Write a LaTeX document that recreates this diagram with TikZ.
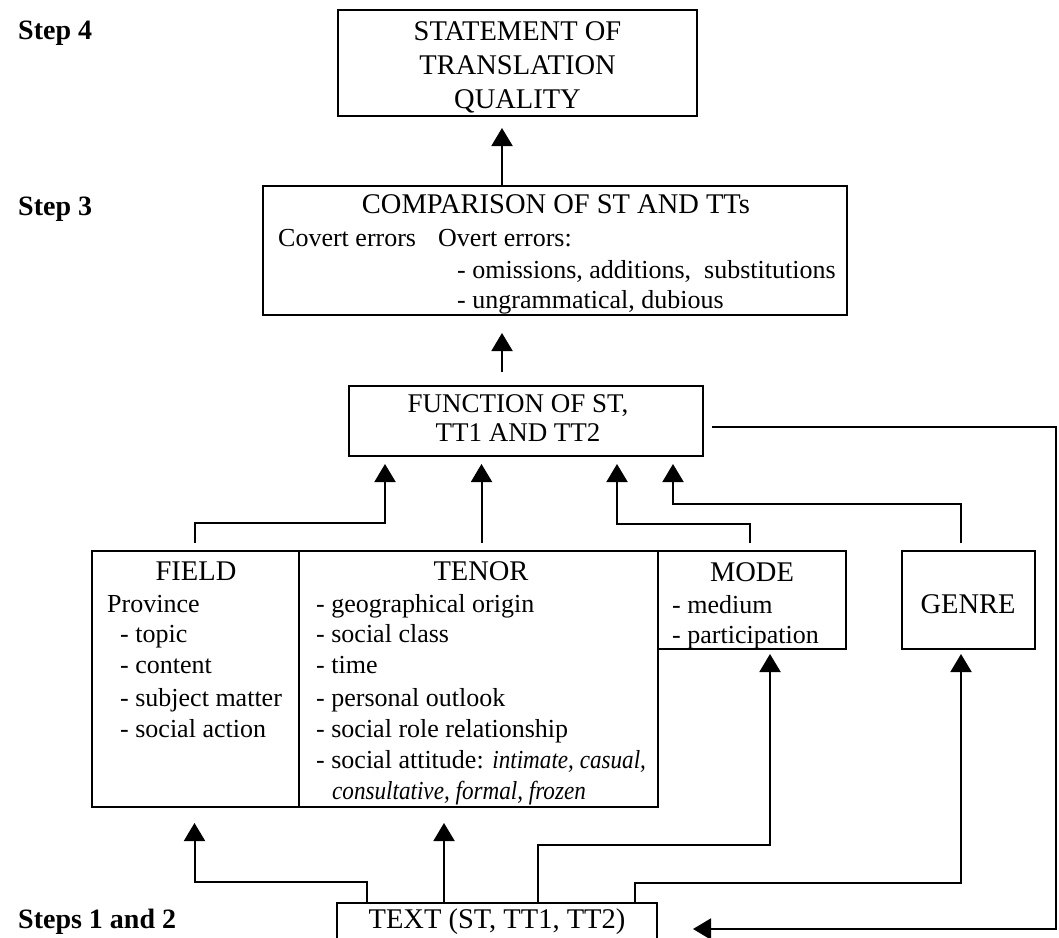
\documentclass[tikz,border=0pt]{standalone}
\usepackage{fontspec}
\usepackage{graphicx}
\setmainfont{Liberation Serif}
\usetikzlibrary{arrows.meta,calc}
\newcommand{\narrowit}[1]{\scalebox{0.89}[1]{\itshape #1}}
\begin{document}
\begin{tikzpicture}[x=1pt,y=-1pt,
  box/.style={draw,line width=1.5pt,inner sep=0pt,outer sep=0pt,anchor=north west},
  ttl/.style={font=\fontsize{28.5}{34}\selectfont,anchor=base,inner sep=0pt},
  txt/.style={font=\fontsize{26}{31}\selectfont,anchor=base west,inner sep=0pt},
  stp/.style={font=\fontsize{28}{34}\selectfont\bfseries,anchor=base west,inner sep=0pt},
  conn/.style={line width=2pt},
  arr/.style={conn,-{Triangle[length=18pt,width=21pt]}}
]
\useasboundingbox (0,0) rectangle (1059,937);
\clip (0,0) rectangle (1059,937);
\fill[white] (0,0) rectangle (1059,937);

% step labels
\node[stp] (s4) at (18,39) {Step 4};
\node[stp] (s3) at (18,215) {Step 3};
\node[stp] (s12) at (18,928) {Steps 1 and 2};

% boxes
\node[box,minimum width=359pt,minimum height=106pt] (stmt) at (338,10) {};
\node[box,minimum width=584pt,minimum height=129pt] (comp) at (263,186) {};
\node[box,minimum width=354pt,minimum height=70pt] (func) at (349,386) {};
\node[box,minimum width=207pt,minimum height=256pt] (field) at (92,551) {};
\node[box,minimum width=359pt,minimum height=256pt] (tenor) at (299,551) {};
\node[box,minimum width=188pt,minimum height=98pt] (mode) at (658,551) {};
\node[box,minimum width=133pt,minimum height=98pt] (genre) at (902,551) {};
\node[box,minimum width=320pt,minimum height=52pt] (text) at (337,903) {};

% statement
\node[ttl] (st1) at (517.5,40) {STATEMENT OF};
\node[ttl] (st2) at (517.5,74) {TRANSLATION};
\node[ttl] (st3) at (517.5,108) {QUALITY};

% comparison
\node[ttl] (cp1) at (556,213) {COMPARISON OF ST AND TTs};
\node[txt] (cp2) at (278,246) {Covert errors};
\node[txt] (cp3) at (438,246) {Overt errors:};
\node[txt] (cp4) at (457,278) {- omissions, additions,\ \ substitutions};
\node[txt] (cp5) at (457,308) {- ungrammatical, dubious};

% function
\node[ttl,font=\fontsize{27}{32}\selectfont] (fn1) at (518,412) {FUNCTION OF ST,};
\node[ttl,font=\fontsize{27}{32}\selectfont] (fn2) at (518,441) {TT1 AND TT2};

% field
\node[ttl] (fd0) at (196,580) {FIELD};
\node[txt] (fd1) at (107,612) {Province};
\node[txt] (fd2) at (120,642) {- topic};
\node[txt] (fd3) at (120,673) {- content};
\node[txt] (fd4) at (120,706) {- subject matter};
\node[txt] (fd5) at (120,737) {- social action};

% tenor
\node[ttl] (tn0) at (481,580) {TENOR};
\node[txt] (tn1) at (316,612) {- geographical origin};
\node[txt] (tn2) at (316,642) {- social class};
\node[txt] (tn3) at (316,673) {- time};
\node[txt] (tn4) at (316,706) {- personal outlook};
\node[txt] (tn5) at (316,737) {- social role relationship};
\node[txt] (tn6) at (316,768) {- social attitude: \narrowit{intimate, casual,}};
\node[txt] (tn7) at (332,799) {\narrowit{consultative, formal, frozen}};

% mode
\node[ttl] (md0) at (752,581) {MODE};
\node[txt] (md1) at (672,613) {- medium};
\node[txt] (md2) at (672,643) {- participation};

% genre
\node[ttl] (gn0) at (968,613) {GENRE};

% text
\node[ttl] (tx0) at (497,928) {TEXT (ST, TT1, TT2)};

% connectors upper
\coordinate (c1) at (502,128);
\draw[arr] (c1 |- comp.north) -- (c1);
\coordinate (c2) at (502,333);
\coordinate (c2b) at (502,372);
\draw[arr] (c2b) -- (c2);

\coordinate (t1) at (385,464);
\coordinate (t3) at (617,464);
\coordinate (t4) at (673,464);
\draw[arr] ([yshift=8pt,xshift=-1pt]field.north) -- ++(0,-20) -| (t1);
\draw[arr,shorten <=8pt,shorten >=8pt] ([xshift=3pt]tenor.north) -- ([xshift=3pt]tenor.north |- func.south);
\draw[arr] ([yshift=8pt,xshift=-2pt]mode.north) -- ++(0,-19) -| (t3);
\draw[arr] ([yshift=8pt,xshift=-7.5pt]genre.north) -- ++(0,-39) -| (t4);

% loop back to text
\coordinate (rc) at (1056,427);
\draw[arr,shorten >=36pt] ([shift={(9,6)}]func.east) -- (rc) |- (text.east);

% connectors lower
\draw[arr] ([xshift=30pt]text.north west) -- ++(0,-21) -| ([xshift=-1pt,yshift=-16pt]field.south);
\coordinate (u2) at (444,823);
\draw[arr] (u2 |- text.north) -- (u2);
\draw[arr] ([xshift=201pt]text.north west) -- ++(0,-58) -| ([xshift=18pt,yshift=-5pt]mode.south);
\draw[arr] ([xshift=298pt]text.north west) -- ++(0,-20) -| ([xshift=-7.5pt,yshift=-5pt]genre.south);
\end{tikzpicture}
\end{document}
